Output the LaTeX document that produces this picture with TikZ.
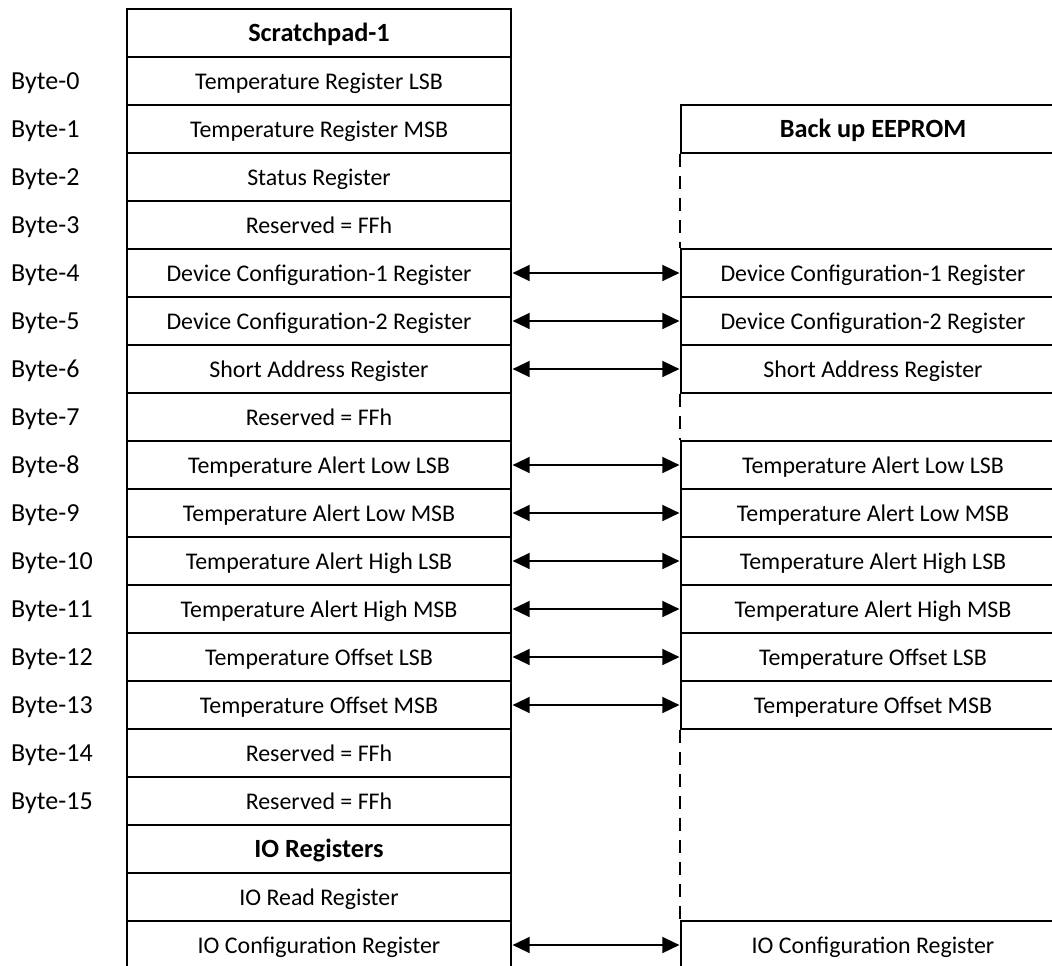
\documentclass[tikz,border=0pt]{standalone}
\usepackage{fontspec}
\setmainfont{Carlito}
\usetikzlibrary{arrows.meta}
\begin{document}
\begin{tikzpicture}[x=1pt,y=-1pt,
  txt/.style={font=\fontsize{23.9}{28}\selectfont, text height=17pt, text depth=0pt},
  cell/.style={txt, draw, line width=1.6pt, minimum width=384pt, minimum height=48pt, inner sep=0pt, anchor=center},
  hcell/.style={cell, font=\fontsize{26.3}{30}\bfseries},
  blabel/.style={font=\fontsize{26}{30}\selectfont, text height=17pt, text depth=0pt, anchor=west, inner sep=0pt},
  link/.style={{Triangle[length=17pt,width=16pt]}-{Triangle[length=17pt,width=16pt]}, line width=1.6pt, shorten <=0.8pt, shorten >=0.8pt},
  gap/.style={line width=1.6pt, dash pattern=on 13pt off 9pt}]
\useasboundingbox (0,0) rectangle (1052,966);

% Scratchpad column
\node[hcell] (shead) at (319,33) {Scratchpad-1};
\node[cell] (s0) at (319,81) {Temperature Register LSB};
\node[cell] (s1) at (319,129) {Temperature Register MSB};
\node[cell] (s2) at (319,177) {Status Register};
\node[cell] (s3) at (319,225) {Reserved = FFh};
\node[cell] (s4) at (319,273) {Device Configuration-1 Register};
\node[cell] (s5) at (319,321) {Device Configuration-2 Register};
\node[cell] (s6) at (319,369) {Short Address Register};
\node[cell] (s7) at (319,417) {Reserved = FFh};
\node[cell] (s8) at (319,465) {Temperature Alert Low LSB};
\node[cell] (s9) at (319,513) {Temperature Alert Low MSB};
\node[cell] (s10) at (319,561) {Temperature Alert High LSB};
\node[cell] (s11) at (319,609) {Temperature Alert High MSB};
\node[cell] (s12) at (319,657) {Temperature Offset LSB};
\node[cell] (s13) at (319,705) {Temperature Offset MSB};
\node[cell] (s14) at (319,753) {Reserved = FFh};
\node[cell] (s15) at (319,801) {Reserved = FFh};
\node[hcell] (siohead) at (319,849) {IO Registers};
\node[cell] (sioread) at (319,897) {IO Read Register};
\node[cell] (siocfg) at (319,945) {IO Configuration Register};

% Byte labels
\foreach \i in {0,...,15} {
  \node[blabel] (b\i) at (11,{81+48*\i}) {Byte-\i};
}

% Back up EEPROM column
\node[hcell] (ehead) at (873,129) {Back up EEPROM};
\node[cell] (e4) at (873,273) {Device Configuration-1 Register};
\node[cell] (e5) at (873,321) {Device Configuration-2 Register};
\node[cell] (e6) at (873,369) {Short Address Register};
\node[cell] (e8) at (873,465) {Temperature Alert Low LSB};
\node[cell] (e9) at (873,513) {Temperature Alert Low MSB};
\node[cell] (e10) at (873,561) {Temperature Alert High LSB};
\node[cell] (e11) at (873,609) {Temperature Alert High MSB};
\node[cell] (e12) at (873,657) {Temperature Offset LSB};
\node[cell] (e13) at (873,705) {Temperature Offset MSB};
\node[cell] (eiocfg) at (873,945) {IO Configuration Register};

% dashed gaps
\draw[gap] (ehead.south west) -- (e4.north west);
\draw[gap] (e6.south west) -- (e8.north west);
\draw[gap] (e13.south west) -- (eiocfg.north west);

% links
\foreach \i in {4,5,6,8,9,10,11,12,13} {
  \draw[link] (s\i.east) -- (e\i.west);
}
\draw[link] (siocfg.east) -- (eiocfg.west);
\end{tikzpicture}
\end{document}
